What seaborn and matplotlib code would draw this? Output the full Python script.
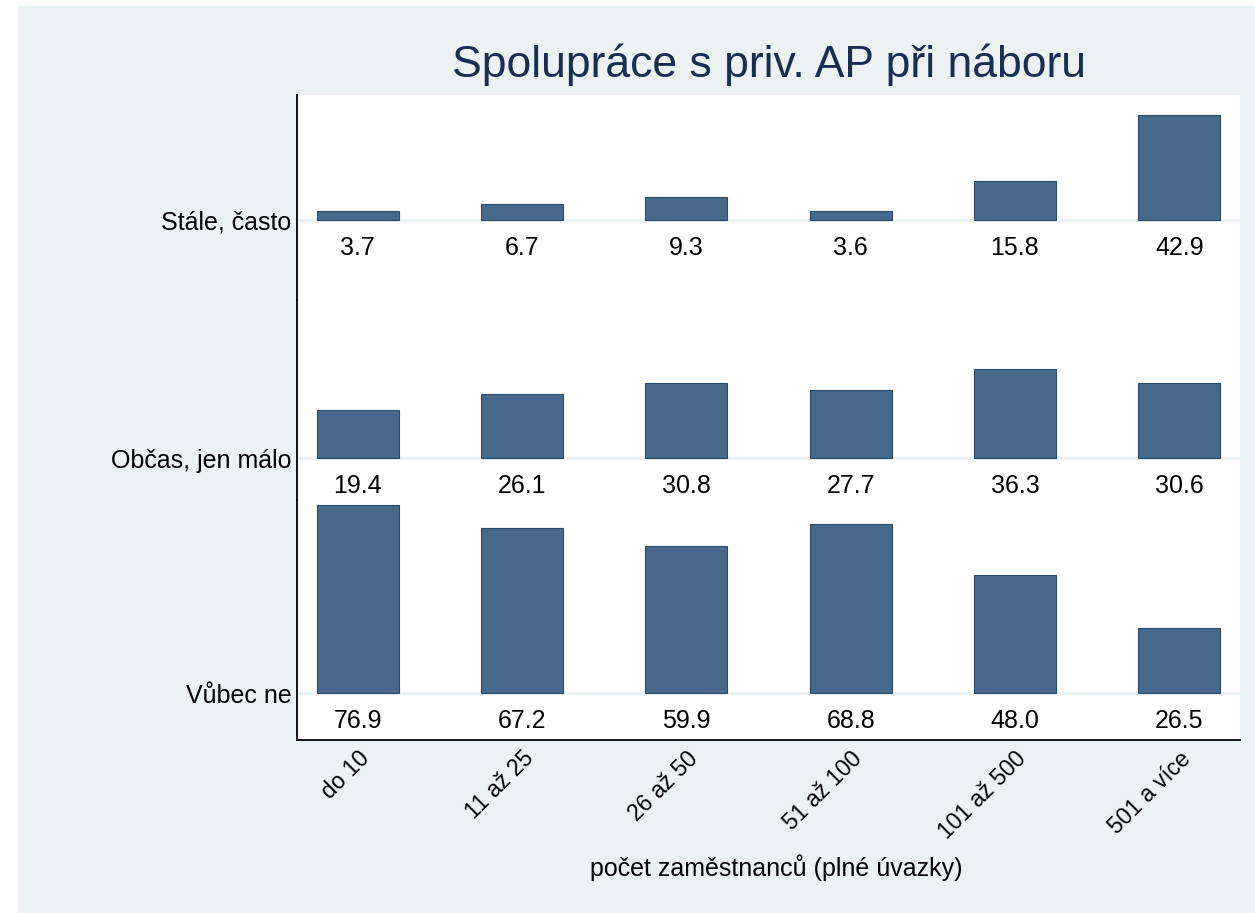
# spoluprace s agenturami prace -- Stata-like stacked bar rows
import matplotlib
matplotlib.use("Agg")
import matplotlib.pyplot as plt
import seaborn as sns
import pandas as pd
from matplotlib.patches import Rectangle

# ------------------------------------------------------------------
# data
# ------------------------------------------------------------------
size_groups = ["do 10", "11 až 25", "26 až 50", "51 až 100", "101 až 500", "501 a více"]
answers = ["Stále, často", "Občas, jen málo", "Vůbec ne"]

stale_casto = [3.7, 6.7, 9.3, 3.6, 15.8, 42.9]
obcas_malo = [19.4, 26.1, 30.8, 27.7, 36.3, 30.6]
vubec_ne = [76.9, 67.2, 59.9, 68.8, 48.0, 26.5]

values = [stale_casto, obcas_malo, vubec_ne]

bar_color = "#476a8c"
edge_color = "#2c4a68"
bg_color = "#eaf2f3"

sns.set_style("white")
plt.rcParams["font.family"] = ["Liberation Sans", "DejaVu Sans"]
plt.rcParams["text.color"] = "black"
plt.rcParams["axes.labelcolor"] = "black"
plt.rcParams["xtick.color"] = "black"
plt.rcParams["ytick.color"] = "black"

W, H = 1255, 913
fig = plt.figure(figsize=(W / 100, H / 100), dpi=100)
fig.patch.set_facecolor("white")
fig.patches.append(Rectangle((18 / W, 0), 1 - 18 / W, 1 - 6 / H,
                             transform=fig.transFigure, color=bg_color, zorder=-10))

# plot area in pixels
left_px, right_px = 297, 1240
px_per_unit = 2.45
# (top px, bottom px, baseline px) for each row
rows_px = [(95, 300, 220), (300, 500, 458), (500, 740, 693)]

axes = []
for i, (ans, vals) in enumerate(zip(answers, values)):
    top, bot, base = rows_px[i]
    ax = fig.add_axes([left_px / W, 1 - bot / H, (right_px - left_px) / W, (bot - top) / H])
    ax.set_facecolor("white")
    df = pd.DataFrame({"group": size_groups, "pct": vals})
    sns.barplot(data=df, x="group", y="pct", color=bar_color, width=0.5,
                saturation=1, edgecolor=edge_color, linewidth=0.8, ax=ax, zorder=3)
    ax.set_ylim(-(bot - base) / px_per_unit, (base - top) / px_per_unit)
    ax.set_xlim(-0.37, 5.37)
    ax.axhline(0, color=bg_color, linewidth=2.5, zorder=1)
    for j, v in enumerate(vals):
        ax.text(j, -28 / px_per_unit, f"{v:.1f}", ha="center", va="center", fontsize=18, clip_on=False)
    ax.set_yticks([0])
    ax.set_yticklabels([ans], fontsize=18)
    ax.tick_params(axis="y", length=0, pad=4)
    ax.set_xlabel("")
    ax.set_ylabel("")
    for s in ["top", "right", "bottom"]:
        ax.spines[s].set_visible(False)
    ax.spines["left"].set_color("black")
    ax.spines["left"].set_linewidth(1.3)
    if i < 2:
        ax.set_xticks([])
    axes.append(ax)

ax = axes[-1]
ax.spines["bottom"].set_visible(True)
ax.spines["bottom"].set_color("black")
ax.spines["bottom"].set_linewidth(1.3)
ax.set_xticks(range(len(size_groups)))
ax.set_xticklabels(size_groups, rotation=45, ha="right", va="top",
                   rotation_mode="anchor", fontsize=16.5)
ax.tick_params(axis="x", length=0, pad=5)
ax.set_xlabel("počet zaměstnanců (plné úvazky)", fontsize=18)
ax.xaxis.label.set_va("center")
ax.xaxis.set_label_coords((776 - left_px) / (right_px - left_px), -(868 - 740) / (740 - 500))

fig.text((left_px + right_px) / 2 / W, 1 - 65 / H, "Spolupráce s priv. AP při náboru",
         ha="center", va="center", fontsize=32, color="#1c2d52")

fig.savefig("out.png", dpi=100, facecolor=fig.get_facecolor())
